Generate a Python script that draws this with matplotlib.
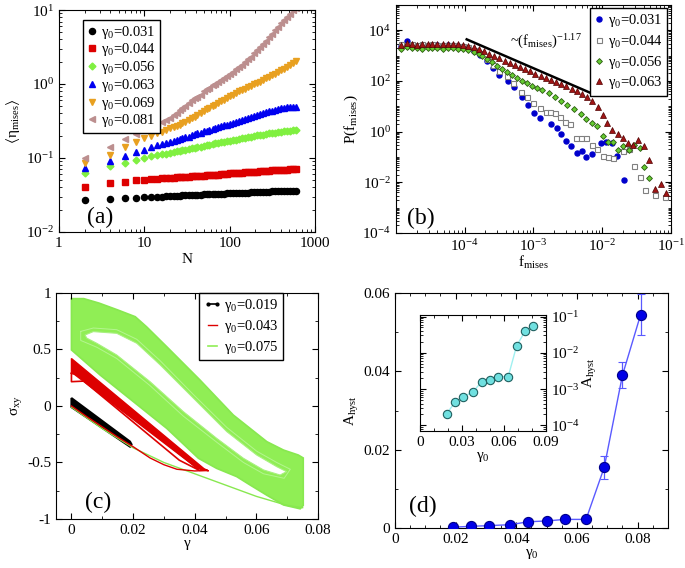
import numpy as np
import matplotlib
matplotlib.use('Agg')
import matplotlib.pyplot as plt
from matplotlib.lines import Line2D
from matplotlib.ticker import LogLocator, MultipleLocator, NullFormatter, LogFormatterMathtext, FixedLocator

plt.rcParams['font.family'] = ['Liberation Serif', 'DejaVu Serif']
plt.rcParams['mathtext.fontset'] = 'custom'
plt.rcParams['mathtext.rm'] = 'Liberation Serif'
plt.rcParams['mathtext.it'] = 'Liberation Serif:italic'
plt.rcParams['mathtext.default'] = 'regular'
plt.rcParams['font.size'] = 11
for ax_ in ['xtick', 'ytick']:
    plt.rcParams[ax_ + '.direction'] = 'in'
    plt.rcParams[ax_ + '.major.size'] = 4.5
    plt.rcParams[ax_ + '.minor.size'] = 2.3
    plt.rcParams[ax_ + '.labelsize'] = 11
plt.rcParams['xtick.top'] = True
plt.rcParams['ytick.right'] = True
plt.rcParams['legend.fancybox'] = False
plt.rcParams['legend.edgecolor'] = 'black'
plt.rcParams['legend.framealpha'] = 1.0

# ---------- (a) mean von Mises strain vs cycle number ----------
N_vals = [2, 4, 6, 8, 10, 12, 14, 16, 18, 20,
          22, 24, 26, 28, 30, 33, 36, 39, 42, 46,
          50, 54, 58, 63, 68, 74, 80, 87, 94, 102,
          110, 120, 130, 141, 153, 166, 180, 195, 211, 229,
          248, 269, 292, 316, 343, 372, 403, 437, 473, 513,
          556, 600]
eta_031 = [0.027, 0.028, 0.029, 0.029, 0.0295, 0.030, 0.030, 0.0302, 0.0305, 0.0307,
           0.031, 0.031, 0.0311, 0.0312, 0.0313, 0.0315, 0.0317, 0.0318, 0.032, 0.032,
           0.0322, 0.0323, 0.0325, 0.0326, 0.0327, 0.0329, 0.033, 0.0331, 0.0333, 0.0335,
           0.0336, 0.0337, 0.0339, 0.034, 0.0341, 0.0342, 0.0344, 0.0345, 0.0347, 0.0349,
           0.035, 0.0351, 0.0352, 0.0354, 0.0355, 0.0356, 0.0357, 0.0358, 0.0359, 0.036,
           0.0361, 0.0362]
eta_044 = [0.041, 0.046, 0.048, 0.050, 0.051, 0.052, 0.0525, 0.053, 0.0535, 0.054,
           0.0545, 0.0548, 0.055, 0.0555, 0.0557, 0.056, 0.0565, 0.0568, 0.057, 0.0573,
           0.058, 0.0582, 0.0585, 0.059, 0.0593, 0.0597, 0.060, 0.0605, 0.0612, 0.062,
           0.0624, 0.0628, 0.0632, 0.0635, 0.0638, 0.0643, 0.065, 0.0653, 0.0657, 0.066,
           0.0665, 0.0668, 0.0672, 0.068, 0.0684, 0.0688, 0.069, 0.0694, 0.0698, 0.0703,
           0.071, 0.0715]
eta_056 = [0.062, 0.078, 0.086, 0.094, 0.100, 0.105, 0.109, 0.112, 0.115, 0.118,
           0.121, 0.123, 0.126, 0.128, 0.130, 0.132, 0.136, 0.138, 0.140, 0.143,
           0.147, 0.150, 0.152, 0.155, 0.158, 0.161, 0.163, 0.166, 0.169, 0.172,
           0.174, 0.178, 0.181, 0.184, 0.187, 0.191, 0.195, 0.198, 0.202, 0.205,
           0.208, 0.212, 0.215, 0.218, 0.221, 0.225, 0.228, 0.230, 0.233, 0.235,
           0.238, 0.240]
eta_063 = [0.074, 0.091, 0.106, 0.120, 0.130, 0.140, 0.148, 0.155, 0.161, 0.167,
           0.172, 0.176, 0.180, 0.185, 0.190, 0.195, 0.205, 0.210, 0.215, 0.220,
           0.229, 0.235, 0.240, 0.248, 0.254, 0.262, 0.268, 0.276, 0.283, 0.292,
           0.300, 0.310, 0.318, 0.327, 0.337, 0.347, 0.356, 0.368, 0.380, 0.391,
           0.402, 0.414, 0.426, 0.438, 0.450, 0.461, 0.470, 0.480, 0.486, 0.490,
           0.492, 0.485]
eta_069 = [0.085, 0.11, 0.14, 0.165, 0.185, 0.2, 0.215, 0.228, 0.24, 0.252,
           0.263, 0.272, 0.283, 0.295, 0.305, 0.325, 0.345, 0.362, 0.38, 0.405,
           0.43, 0.455, 0.47, 0.5, 0.525, 0.56, 0.585, 0.615, 0.645, 0.69,
           0.72, 0.765, 0.795, 0.83, 0.865, 0.91, 0.95, 0.99, 1.03, 1.08,
           1.13, 1.19, 1.25, 1.31, 1.38, 1.46, 1.54, 1.62, 1.71, 1.81,
           1.93, 2.05]
eta_081 = [0.1, 0.14, 0.18, 0.21, 0.245, 0.27, 0.29, 0.31, 0.33, 0.35,
           0.38, 0.4, 0.44, 0.47, 0.5, 0.55, 0.61, 0.64, 0.67, 0.72,
           0.8, 0.85, 0.88, 0.96, 1.0, 1.08, 1.14, 1.22, 1.29, 1.38,
           1.47, 1.58, 1.7, 1.83, 1.98, 2.15, 2.35, 2.6, 2.85, 3.15,
           3.5, 3.85, 4.3, 4.75, 5.3, 5.9, 6.6, 7.3, 8.1, 8.9,
           10.0, 10.8]

# ---------- (b) distribution of f_mises ----------
f_031 = [1.2e-5, 1.45e-5, 1.7e-5, 2.0e-5, 2.4e-5, 2.9e-5, 3.4e-5, 4.0e-5, 4.8e-5, 5.7e-5,
         6.8e-5, 8.0e-5, 9.5e-5, 1.13e-4, 1.35e-4, 1.65e-4, 2.1e-4, 2.6e-4, 3.2e-4, 4.2e-4,
         5.2e-4, 6.9e-4, 8.3e-4, 1.02e-3, 1.26e-3, 1.78e-3, 2.2e-3, 2.5e-3, 2.95e-3, 3.5e-3,
         4.3e-3, 5.0e-3, 5.9e-3, 7.1e-3, 9.5e-3, 1.15e-2, 1.38e-2, 1.66e-2, 2.05e-2]
P_031 = [2500, 3900, 2700, 2400, 2600, 2500, 2700, 2600, 2500, 2600,
         2400, 2500, 2300, 2100, 1500, 1100, 600, 330, 180, 100,
         60, 23, 11, 5.6, 3.4, 2.0, 1.35, 0.81, 0.43, 0.27,
         0.14, 0.18, 0.10, 0.126, 0.35, 0.4, 0.36, 0.11, 0.012]
f_044 = [1.2e-5, 1.45e-5, 1.7e-5, 2.0e-5, 2.4e-5, 2.9e-5, 3.4e-5, 4.0e-5, 4.8e-5, 5.7e-5,
         6.8e-5, 8.0e-5, 9.5e-5, 1.13e-4, 1.35e-4, 1.65e-4, 2.1e-4, 2.6e-4, 3.2e-4, 4.1e-4,
         5.1e-4, 6.5e-4, 8.0e-4, 9.8e-4, 1.23e-3, 1.5e-3, 1.75e-3, 2.05e-3, 2.45e-3, 2.9e-3,
         3.4e-3, 4.1e-3, 4.9e-3, 5.8e-3, 7.0e-3, 8.5e-3, 1.02e-2, 1.2e-2, 1.45e-2, 2.0e-2,
         2.45e-2, 2.9e-2, 3.5e-2, 4.2e-2, 5.9e-2, 8.2e-2]
P_044 = [2900, 2700, 2800, 2600, 2800, 2700, 2900, 2700, 2750, 2650,
         2700, 2500, 2400, 2200, 1700, 1230, 720, 430, 257, 158,
         81, 38, 23, 14, 8.3, 6.2, 6.2, 5.6, 3.7, 2.5,
         2.0, 0.55, 0.55, 0.55, 0.3, 0.2, 0.11, 0.098, 0.09, 0.18,
         0.2, 0.045, 0.0166, 0.005, 0.0032, 0.0027]
f_056 = [1.2e-5, 1.45e-5, 1.7e-5, 2.0e-5, 2.4e-5, 2.9e-5, 3.4e-5, 4.0e-5, 4.8e-5, 5.7e-5,
         6.8e-5, 8.0e-5, 9.5e-5, 1.13e-4, 1.35e-4, 1.6e-4, 1.78e-4, 2.1e-4, 2.5e-4, 2.95e-4,
         3.5e-4, 4.1e-4, 4.9e-4, 5.8e-4, 6.8e-4, 8.1e-4, 9.5e-4, 1.12e-3, 1.32e-3, 1.66e-3,
         2.04e-3, 2.5e-3, 3.1e-3, 3.9e-3, 4.9e-3, 5.9e-3, 7.2e-3, 8.5e-3, 1.02e-2, 1.23e-2,
         1.45e-2, 1.7e-2, 2.04e-2, 2.45e-2, 2.9e-2, 3.5e-2, 4.1e-2, 4.8e-2]
P_056 = [1900, 2200, 2000, 2100, 1900, 2100, 2000, 2100, 1900, 2000,
         1950, 1900, 1800, 1700, 1450, 1200, 980, 740, 560, 400,
         300, 230, 170, 130, 100, 80, 65, 55, 45, 33,
         23, 16.6, 11.2, 7.6, 5.0, 3.1, 2.1, 1.6, 0.68, 0.4,
         0.4, 0.19, 0.27, 0.19, 0.3, 0.22, 0.042, 0.0145]
f_063 = [1.2e-5, 1.45e-5, 1.7e-5, 2.0e-5, 2.4e-5, 2.9e-5, 3.4e-5, 4.0e-5, 4.8e-5, 5.7e-5,
         6.8e-5, 8.0e-5, 9.5e-5, 1.13e-4, 1.35e-4, 1.6e-4, 1.9e-4, 2.25e-4, 2.7e-4, 3.2e-4,
         3.8e-4, 4.5e-4, 5.4e-4, 6.4e-4, 7.6e-4, 9.0e-4, 1.07e-3, 1.27e-3, 1.5e-3, 1.8e-3,
         2.15e-3, 2.55e-3, 3.0e-3, 3.6e-3, 4.3e-3, 5.1e-3, 6.1e-3, 7.2e-3, 8.6e-3, 1.02e-2,
         1.17e-2, 1.4e-2, 1.7e-2, 2.0e-2, 2.4e-2, 2.8e-2, 3.3e-2, 4.0e-2, 4.8e-2, 5.8e-2,
         7.1e-2, 8.5e-2]
P_063 = [2700, 3100, 2900, 2700, 3000, 3000, 2800, 3000, 2900, 2950,
         2800, 2850, 2700, 2500, 2200, 1850, 1500, 1200, 950, 780,
         640, 530, 440, 360, 300, 240, 195, 160, 132, 108,
         89, 74, 61, 50, 41, 32, 24, 16, 9, 4.5,
         2.2, 1.2, 0.8, 0.55, 0.35, 0.3, 0.47, 0.26, 0.076, 0.0055,
         0.0085, 0.0038]
slope_f = [1.07e-4, 7.1e-3]
slope_P = [4400, 32]

# ---------- (c) stress-strain loops (outline vertices) ----------
green_outer_g = [0, 0.004, 0.009, 0.015, 0.0207, 0.0244, 0.0309, 0.0417, 0.0525, 0.0634,
                 0.0688, 0.0736, 0.0752, 0.0752, 0.0742, 0.0688, 0.0634, 0.058, 0.0536, 0.0471,
                 0.0412, 0.0309, 0.0201, 0.0093, 0]
green_outer_s = [0.95, 0.95, 0.91, 0.85, 0.79, 0.70, 0.525, 0.23, -0.08, -0.316,
                 -0.39, -0.434, -0.46, -0.88, -0.91, -0.876, -0.79, -0.70, -0.625, -0.552,
                 -0.463, -0.198, 0.038, 0.274, 0.496]
green_hole_g = [0.0044, 0.0071, 0.0147, 0.0212, 0.0288, 0.0396, 0.0504, 0.0601, 0.0666, 0.0698,
                0.0677, 0.0623, 0.0558, 0.0471, 0.0363, 0.0255, 0.0147, 0.0082, 0.005]
green_hole_s = [0.628, 0.658, 0.643, 0.555, 0.363, 0.068, -0.227, -0.434, -0.537, -0.581,
                -0.611, -0.566, -0.463, -0.286, -0.05, 0.215, 0.451, 0.555, 0.6]
green_inner_g = [0.003, 0.0071, 0.0147, 0.0212, 0.0288, 0.0396, 0.0504, 0.0601, 0.0666, 0.071,
                 0.069, 0.0623, 0.0558, 0.0471, 0.0363, 0.0255, 0.0147, 0.0082, 0.003, 0.003]
green_inner_s = [0.66, 0.69, 0.675, 0.59, 0.40, 0.10, -0.19, -0.40, -0.50, -0.56,
                 -0.64, -0.60, -0.50, -0.32, -0.09, 0.18, 0.42, 0.52, 0.58, 0.66]
green_first_g = [0, 0.01, 0.02, 0.03, 0.04, 0.05, 0.06, 0.07, 0.075]
green_first_s = [-0.01, -0.2, -0.37, -0.5, -0.6, -0.7, -0.8, -0.88, -0.9]
red_band_g = [0, 0.043, 0.0445, 0.0405, 0]
red_band_s = [0.42, -0.555, -0.575, -0.545, 0.30]
red_loop_g = [0, 0.004, 0.0406, 0.044, 0.0415, 0.035, 0.004, 0, 0]
red_loop_s = [0.29, 0.26, -0.546, -0.57, -0.57, -0.48, 0.22, 0.215, 0.29]
red_first_g = [0, 0.005, 0.01, 0.0147, 0.02, 0.0255, 0.03, 0.0342, 0.04, 0.044]
red_first_s = [0, -0.095, -0.185, -0.27, -0.36, -0.46, -0.52, -0.56, -0.575, -0.57]
black_band_g = [0, 0.019, 0.0195, 0.019, 0]
black_band_s = [0.07, -0.315, -0.34, -0.36, -0.01]

# ---------- (d) hysteresis area ----------
gamma0 = [0.019, 0.025, 0.031, 0.038, 0.044, 0.050, 0.056, 0.063, 0.069, 0.075, 0.081]
A_hyst = [0.00021, 0.00043, 0.00061, 0.00085, 0.0016, 0.0018, 0.0022, 0.0022, 0.0155, 0.039, 0.0545]
A_err = [0.0001, 0.0001, 0.0001, 0.0002, 0.0003, 0.0003, 0.0004, 0.0004, 0.003, 0.0033, 0.0052]

fig = plt.figure(figsize=(6.85, 5.68), dpi=100)
zero_fmt = matplotlib.ticker.FuncFormatter(lambda v, p: '0' if abs(v) < 1e-9 else '%g' % v)

# ---- panel (a)
ax = fig.add_axes([0.0861, 0.5915, 0.3737, 0.3908])
styles_a = [(eta_031, 'o', 'black', '0.031'), (eta_044, 's', '#dd0000', '0.044'),
            (eta_056, 'D', '#80f040', '0.056'), (eta_063, '^', '#0000f0', '0.063'),
            (eta_069, 'v', '#e8a020', '0.069'), (eta_081, '<', '#bc8f8f', '0.081')]
for vals, mk, col, lab in styles_a:
    ax.plot(N_vals, vals, ls='none', marker=mk, ms=4.4 if mk != 'D' else 3.5,
            color=col, mec=col, label=r'$\gamma_0$=' + lab)
ax.set_xscale('log')
ax.set_yscale('log')
ax.set_xlim(1, 1000)
ax.set_ylim(1e-2, 1e1)
ax.xaxis.set_major_locator(FixedLocator([1, 10, 100, 1000]))
ax.xaxis.set_major_formatter(matplotlib.ticker.FixedFormatter(['1', '10', '100', '1000']))
ax.yaxis.set_major_locator(LogLocator(base=10, numticks=10))
ax.yaxis.set_major_formatter(LogFormatterMathtext())
ax.set_xlabel('N', labelpad=2)
ax.set_ylabel(r'$\langle\eta_{mises}\rangle$', labelpad=3)
ax.legend(loc='upper left', bbox_to_anchor=(0.094, 0.955), borderaxespad=0, numpoints=1,
          fontsize=10.5, labelspacing=0.05, handlelength=0.7, handletextpad=0.3, borderpad=0.25)
ax.text(0.11, 0.04, '(a)', transform=ax.transAxes, fontsize=17)

# ---- panel (b)
ax = fig.add_axes([0.578, 0.5898, 0.4015, 0.4014])
ax.plot(f_031, P_031, ls='none', marker='o', ms=3.6, color='#0000cc', mec='#0000cc',
        label=r'$\gamma_0$=0.031')
ax.plot(f_044, P_044, ls='none', marker='s', ms=3.6, mfc='white', mec='#808080', mew=0.8,
        label=r'$\gamma_0$=0.044')
ax.plot(f_056, P_056, ls='none', marker='D', ms=3.0, mfc='#66cc33', mec='#2a5a10', mew=0.6,
        label=r'$\gamma_0$=0.056')
ax.plot(f_063, P_063, ls='none', marker='^', ms=3.8, mfc='#a01515', mec='#500000', mew=0.5,
        label=r'$\gamma_0$=0.063')
ax.plot(slope_f, slope_P, color='black', lw=1.8)
ax.text(4.6e-4, 2.5e3, r'~(f$_{mises}$)$^{-1.17}$', fontsize=10.5)
ax.set_xscale('log')
ax.set_yscale('log')
ax.set_xlim(1e-5, 1e-1)
ax.set_ylim(1e-4, 1e5)
ax.xaxis.set_major_locator(FixedLocator([1e-4, 1e-3, 1e-2, 1e-1]))
ax.xaxis.set_major_formatter(LogFormatterMathtext())
ax.xaxis.set_minor_locator(LogLocator(base=10, subs=np.arange(1, 10), numticks=20))
ax.xaxis.set_minor_formatter(NullFormatter())
ax.yaxis.set_major_locator(FixedLocator([1e-4, 1e-2, 1e0, 1e2, 1e4]))
ax.yaxis.set_major_formatter(LogFormatterMathtext())
ax.yaxis.set_minor_locator(LogLocator(base=10, subs=np.arange(1, 10), numticks=20))
ax.yaxis.set_minor_formatter(NullFormatter())
ax.set_xlabel(r'f$_{mises}$', labelpad=0)
ax.set_ylabel(r'P(f$_{mises}$)', labelpad=2)
ax.legend(loc='upper right', bbox_to_anchor=(0.985, 0.987), borderaxespad=0, numpoints=1,
          fontsize=10.5, labelspacing=0.25, handlelength=0.6, handletextpad=0.3, borderpad=0.3)
ax.text(0.04, 0.04, '(b)', transform=ax.transAxes, fontsize=17)

# ---- panel (c)
ax = fig.add_axes([0.0818, 0.0863, 0.3825, 0.3979])
ax.fill(green_outer_g, green_outer_s, color='#90ee55', lw=1.2, ec='#88e850')
ax.plot(green_inner_g, green_inner_s, color='#b4f590', lw=0.7)
ax.fill(green_hole_g, green_hole_s, color='white', lw=0.8, ec='#a8f080')
ax.plot(green_first_g, green_first_s, color='#88e850', lw=1.0)
ax.plot(red_first_g, red_first_s, color='#dd0000', lw=1.0)
ax.plot(red_loop_g, red_loop_s, color='#dd0000', lw=1.2)
ax.fill(red_band_g, red_band_s, color='#dd0000', lw=1.0, ec='#dd0000')
ax.fill(black_band_g, black_band_s, color='black', lw=1.5, ec='black')
ax.set_xlim(-0.005, 0.08)
ax.set_ylim(-1, 1)
ax.xaxis.set_major_locator(MultipleLocator(0.02))
ax.xaxis.set_minor_locator(MultipleLocator(0.01))
ax.yaxis.set_major_locator(MultipleLocator(0.5))
ax.yaxis.set_minor_locator(MultipleLocator(0.25))
ax.xaxis.set_major_formatter(zero_fmt)
ax.yaxis.set_major_formatter(zero_fmt)
ax.set_xlabel(r'$\gamma$', labelpad=1)
ax.set_ylabel(r'$\sigma_{xy}$', labelpad=2)
handles = [Line2D([], [], color='black', marker='.', ms=4, lw=1.2),
           Line2D([], [], color='#dd0000', lw=1.0),
           Line2D([], [], color='#90ee55', lw=1.2)]
ax.legend(handles, [r'$\gamma_0$=0.019', r'$\gamma_0$=0.043', r'$\gamma_0$=0.075'],
          loc='upper right', bbox_to_anchor=(0.866, 1.0), borderaxespad=0, numpoints=2,
          fontsize=10.5, labelspacing=0.25, handlelength=1.2, handletextpad=0.2, borderpad=0.3)
ax.text(0.11, 0.05, '(c)', transform=ax.transAxes, fontsize=17)

# ---- panel (d)
ax = fig.add_axes([0.5766, 0.0704, 0.3985, 0.4137])
ax.errorbar(gamma0, A_hyst, yerr=A_err, color='#5a5aff', lw=1.0, elinewidth=0.9,
            capsize=3, marker='o', ms=7.3, mfc='#0000e6', mec='#00008a', mew=0.8, zorder=3)
ax.set_xlim(0, 0.09)
ax.set_ylim(0, 0.06)
ax.xaxis.set_major_locator(FixedLocator([0, 0.02, 0.04, 0.06, 0.08]))
ax.xaxis.set_minor_locator(MultipleLocator(0.005))
ax.yaxis.set_major_locator(MultipleLocator(0.02))
ax.yaxis.set_minor_locator(MultipleLocator(0.01))
ax.xaxis.set_major_formatter(zero_fmt)
ax.yaxis.set_major_formatter(zero_fmt)
ax.set_xlabel(r'$\gamma_0$', labelpad=1)
ax.set_ylabel(r'A$_{hyst}$', labelpad=2)
ax.text(0.05, 0.07, '(d)', transform=ax.transAxes, fontsize=17)

# inset
ins = fig.add_axes([0.6131, 0.2412, 0.184, 0.2042])
ins.plot(gamma0, A_hyst, color='#a0f0f0', lw=1.0, marker='o', ms=6, mfc='#70e0e0',
         mec='#206060', mew=0.8)
ins.set_yscale('log')
ins.set_xlim(0, 0.09)
ins.set_ylim(7e-5, 1.1e-1)
ins.xaxis.set_major_locator(FixedLocator([0, 0.03, 0.06, 0.09]))
ins.xaxis.set_minor_locator(MultipleLocator(0.01))
ins.xaxis.set_major_formatter(zero_fmt)
ins.yaxis.set_major_locator(FixedLocator([1e-4, 1e-3, 1e-2, 1e-1]))
ins.yaxis.set_major_formatter(LogFormatterMathtext())
ins.yaxis.set_minor_locator(LogLocator(base=10, subs=np.arange(2, 10), numticks=20))
ins.yaxis.set_minor_formatter(NullFormatter())
ins.tick_params(axis='y', which='both', labelleft=False, labelright=True)
ins.yaxis.set_label_position('right')
ins.set_ylabel(r'A$_{hyst}$', labelpad=1)
ins.set_xlabel(r'$\gamma_0$', labelpad=1)

fig.savefig('out.png', dpi=100)
